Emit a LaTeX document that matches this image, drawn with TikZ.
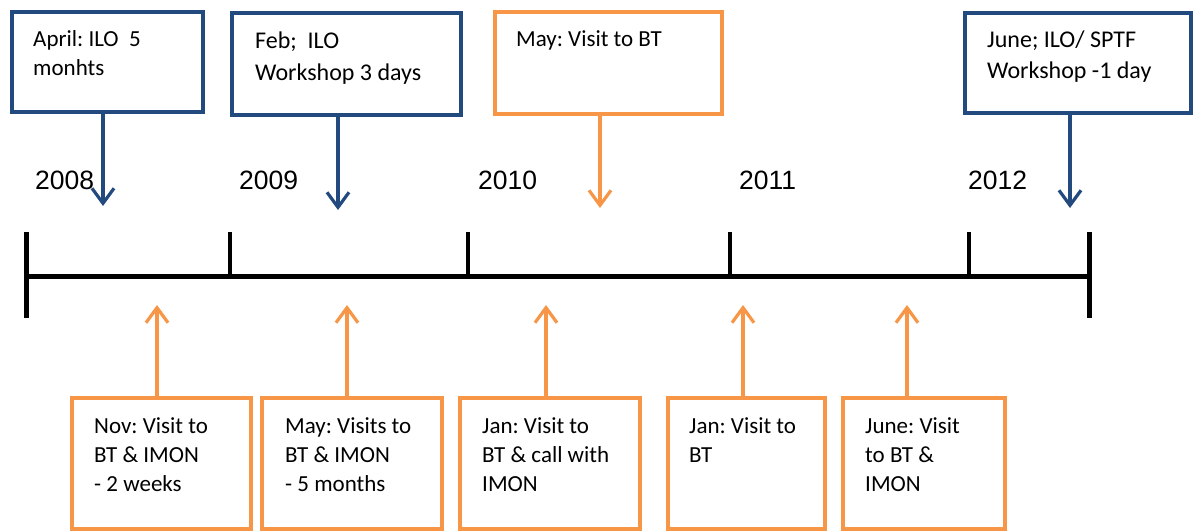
\documentclass[tikz,border=0pt]{standalone}
\usepackage{fontspec}
\setmainfont{Carlito}
\newfontfamily\yearfont{Liberation Sans}
\usetikzlibrary{positioning, arrows.meta}
\frenchspacing

\definecolor{iloblue}{RGB}{35,74,126}
\definecolor{btorange}{RGB}{247,150,70}

\begin{document}
\begin{tikzpicture}[x=1pt, y=-1pt]

  \tikzstyle{event}=[draw, line width=4pt, inner sep=0, outer sep=0, anchor=north west]
  \tikzstyle{ilo}=[event, draw=iloblue]
  \tikzstyle{visit}=[event, draw=btorange]
  \tikzstyle{note}=[anchor=base west, align=left, inner sep=0, font=\fontsize{23}{29}\selectfont]
  \tikzstyle{year}=[anchor=base west, inner sep=0, font=\yearfont\fontsize{26.5}{30}\selectfont]
  \tikzstyle{pointer}=[line width=3.2pt, -{Straight Barb[length=15pt, width=22pt]}]

  \useasboundingbox (0,0) rectangle (1194,531);

  % time line
  \coordinate (start) at (26,276);
  \coordinate (end) at (1089,276);
  \draw [line width=5pt] (start) -- (end);
  \draw [line width=5pt] ([yshift=44pt]start) -- ([yshift=-42pt]start);
  \draw [line width=5pt] ([yshift=44pt]end) -- ([yshift=-42pt]end);
  \foreach \x in {230, 468, 730, 969}
    \draw [line width=3.5pt] (\x,276) -- (\x,232);

  \node [year] (y2008) at (35,189) {2008};
  \node [year] (y2009) at (239,189) {2009};
  \node [year] (y2010) at (478,189) {2010};
  \node [year] (y2011) at (739,189) {2011};
  \node [year] (y2012) at (968,189) {2012};

  % boxes above the line
  \node [ilo, minimum width=191pt, minimum height=100pt] (apr) at (12,12) {};
  \node [ilo, minimum width=229pt, minimum height=102pt] (feb) at (232,13) {};
  \node [visit, minimum width=227pt, minimum height=102pt] (may) at (495,12) {};
  \node [ilo, minimum width=226pt, minimum height=100pt] (june) at (965,13) {};

  % (base of a note is its last line)
  \node [note] (apr-t) at ([xshift=21pt, yshift=-63pt]apr.north west) {April: ILO\ \ 5\\monhts};
  \node [note, font=\fontsize{24}{32}\selectfont] (feb-t) at ([xshift=23pt, yshift=-67pt]feb.north west) {Feb;\ \ ILO\\Workshop 3 days};
  \node [note] (may-t) at ([xshift=21pt, yshift=-34pt]may.north west) {May: Visit to BT};
  \node [note, font=\fontsize{24}{31}\selectfont] (june-t) at ([xshift=22pt, yshift=-65pt]june.north west) {June; ILO/ SPTF\\Workshop -1 day};

  \coordinate (apr-at) at (103,206);
  \coordinate (feb-at) at (338,210);
  \coordinate (may-at) at (600,208);
  \coordinate (june-at) at (1070,208);

  \draw [pointer, iloblue] (apr-at |- apr.south) -- (apr-at);
  \draw [pointer, iloblue] (feb-at |- feb.south) -- (feb-at);
  \draw [pointer, btorange] (may-at |- may.south) -- (may-at);
  \draw [pointer, iloblue] (june-at |- june.south) -- (june-at);

  % boxes below the line
  \node [visit, minimum width=179pt, minimum height=131pt] (nov) at (72,398) {};
  \node [visit, minimum width=180pt, minimum height=131pt] (may2) at (262,398) {};
  \node [visit, minimum width=180pt, minimum height=131pt] (jan) at (460,398) {};
  \node [visit, minimum width=157pt, minimum height=131pt] (jan2) at (668,398) {};
  \node [visit, minimum width=162pt, minimum height=131pt] (june2) at (843,398) {};

  \node [note] (nov-t) at ([xshift=22pt, yshift=-93pt]nov.north west) {Nov: Visit to\\BT \& IMON\\- 2 weeks};
  \node [note] (may2-t) at ([xshift=23pt, yshift=-93pt]may2.north west) {May: Visits to\\BT \& IMON\\- 5 months};
  \node [note] (jan-t) at ([xshift=22pt, yshift=-93pt]jan.north west) {Jan: Visit to\\BT \& call with\\IMON};
  \node [note] (jan2-t) at ([xshift=21pt, yshift=-64pt]jan2.north west) {Jan: Visit to\\BT};
  \node [note] (june2-t) at ([xshift=22pt, yshift=-93pt]june2.north west) {June: Visit\\to BT \&\\IMON};

  \coordinate (nov-at) at (157,305);
  \coordinate (may2-at) at (347,305);
  \coordinate (jan-at) at (546,305);
  \coordinate (jan2-at) at (743,305);
  \coordinate (june2-at) at (907,305);

  \draw [pointer, btorange] (nov-at |- nov.north) -- (nov-at);
  \draw [pointer, btorange] (may2-at |- may2.north) -- (may2-at);
  \draw [pointer, btorange] (jan-at |- jan.north) -- (jan-at);
  \draw [pointer, btorange] (jan2-at |- jan2.north) -- (jan2-at);
  \draw [pointer, btorange] (june2-at |- june2.north) -- (june2-at);
\end{tikzpicture}
\end{document}
